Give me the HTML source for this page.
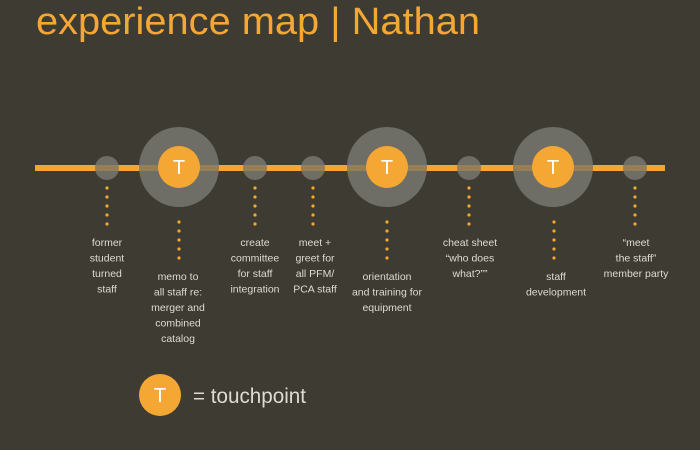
<!DOCTYPE html>
<html><head><meta charset="utf-8"><style>
html,body{margin:0;padding:0;background:#3e3b32;}
svg{display:block}
text{font-family:"Liberation Sans",sans-serif;}
.l{fill:#dedbd2;font-size:10.5px;text-anchor:middle;}
</style></head><body>
<svg width="700" height="450" viewBox="0 0 700 450" xmlns="http://www.w3.org/2000/svg">
<defs>
<g id="s" fill="#f5a733"><circle cx="0" cy="188" r="1.6"/><circle cx="0" cy="197" r="1.6"/><circle cx="0" cy="206" r="1.6"/><circle cx="0" cy="215" r="1.6"/><circle cx="0" cy="224" r="1.6"/></g>
</defs>
<rect width="700" height="450" fill="#3e3b32"/>
<text x="36" y="34" font-size="38" fill="#f5a733" textLength="444" lengthAdjust="spacingAndGlyphs">experience map | Nathan</text>
<rect x="35" y="165" width="630" height="6" fill="#f5a733"/>
<g fill="#6e6d66">
<circle cx="107" cy="168" r="12"/><circle cx="255" cy="168" r="12"/><circle cx="313" cy="168" r="12"/>
<circle cx="469" cy="168" r="12"/><circle cx="635" cy="168" r="12"/>
<circle cx="179" cy="167" r="40"/><circle cx="387" cy="167" r="40"/><circle cx="553" cy="167" r="40"/>
</g>
<rect x="35" y="165" width="630" height="6" fill="#f5a733" opacity="0.3"/>
<g fill="#f5a733">
<circle cx="179" cy="167" r="21"/><circle cx="387" cy="167" r="21"/><circle cx="553" cy="167" r="21"/>
<circle cx="160" cy="395" r="21"/>
</g>
<g fill="#fff" font-size="20" text-anchor="middle">
<text x="179" y="174">T</text><text x="387" y="174">T</text><text x="553" y="174">T</text><text x="160" y="402">T</text>
</g>
<use href="#s" x="107"/><use href="#s" x="255"/><use href="#s" x="313"/><use href="#s" x="469"/><use href="#s" x="635"/>
<use href="#s" x="179" y="34"/><use href="#s" x="387" y="34"/><use href="#s" x="554" y="34"/>
<g class="l">
<text x="107" y="246">former</text><text x="107" y="261.5">student</text><text x="107" y="277">turned</text><text x="107" y="292.5">staff</text>
<text x="178" y="280">memo to</text><text x="178" y="295.5">all staff re:</text><text x="178" y="311">merger and</text><text x="178" y="326.5">combined</text><text x="178" y="342">catalog</text>
<text x="255" y="246">create</text><text x="255" y="261.5">committee</text><text x="255" y="277">for staff</text><text x="255" y="292.5">integration</text>
<text x="315" y="246">meet +</text><text x="315" y="261.5">greet for</text><text x="315" y="277">all PFM/</text><text x="315" y="292.5">PCA staff</text>
<text x="387" y="280">orientation</text><text x="387" y="295.5">and training for</text><text x="387" y="311">equipment</text>
<text x="470" y="246">cheat sheet</text><text x="470" y="261.5">“who does</text><text x="470" y="277">what?””</text>
<text x="556" y="280">staff</text><text x="556" y="295.5">development</text>
<text x="636" y="246">“meet</text><text x="636" y="261.5">the staff”</text><text x="636" y="277">member party</text>
</g>
<text x="193" y="403" font-size="21" fill="#dedbd2" textLength="113" lengthAdjust="spacingAndGlyphs">= touchpoint</text>
</svg>
</body></html>
